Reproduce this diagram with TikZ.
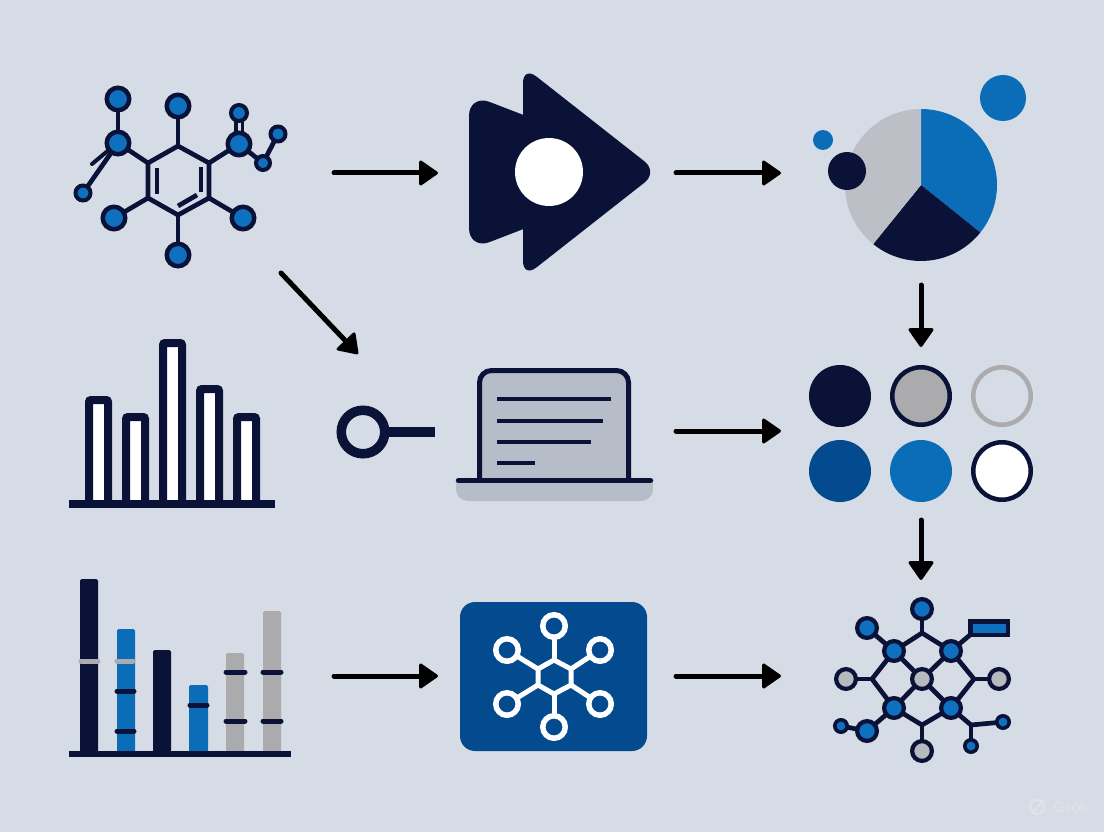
\documentclass[tikz,border=0pt]{standalone}
\usepackage{fontspec}
\setmainfont{Liberation Sans}
\usetikzlibrary{arrows.meta,backgrounds}
\definecolor{bgc}{HTML}{D6DCE5}
\definecolor{navy}{HTML}{0A1238}
\definecolor{blu}{HTML}{0B6CB8}
\definecolor{ablu}{HTML}{0F70C0}
\definecolor{dblu}{HTML}{034A8E}
\definecolor{gry}{HTML}{ABABAD}
\definecolor{pale}{HTML}{B7BDC8}
\definecolor{cgry}{HTML}{BCC0C6}
\definecolor{wm}{HTML}{DFE3EA}
\tikzset{
  flow/.style={draw=black,line width=5pt,line cap=round,-{Triangle[length=20pt,width=27pt,round,line width=3pt]}},
  bond/.style={draw=navy,line width=4.7pt,line cap=round,line join=round},
  atom/.style={circle,draw=navy,line width=4.5pt,fill=ablu,inner sep=0pt,outer sep=0pt,minimum size=22.5pt},
  matom/.style={atom,line width=4.2pt,minimum size=19.8pt},
  satom/.style={atom,line width=4pt,minimum size=15pt},
  tatom/.style={atom,line width=3.6pt,minimum size=12.4pt},
  gatom/.style={matom,fill=cgry!90!gray},
  disc/.style={circle,inner sep=0pt,minimum size=#1,fill=blu},
  bigdot/.style={circle,inner sep=0pt,minimum size=57.5pt,line width=4.5pt},
  wring/.style={circle,draw=white,line width=5.5pt,fill=dblu,inner sep=0pt,outer sep=0pt,minimum size=22.5pt},
  wbond/.style={draw=white,line width=5pt},
  barbox/.style={draw=navy,line width=8pt,fill=white,rounded corners=2pt},
  tick/.style={line width=5pt,line cap=round},
  txtline/.style={draw=navy,line width=4.5pt},
}
\begin{document}
\begin{tikzpicture}[x=1pt,y=-1pt]
\useasboundingbox (0,0) rectangle (1104,832);
\begin{scope}[on background layer]
\fill[bgc] (0,0) rectangle (1104,832);
\fill[dblu,rounded corners=15pt] (460,602) rectangle (647,751);
\end{scope}

% ---------- molecule
\coordinate (h1) at (178,146);
\coordinate (h2) at (209,163);
\coordinate (h3) at (209,198);
\coordinate (h4) at (178,215);
\coordinate (h5) at (148,198);
\coordinate (h6) at (148,163);
\node[atom] (m1) at (118,99) {};
\node[atom] (m2) at (118,143) {};
\node[satom] (m3) at (83,193) {};
\node[atom] (m4) at (178,106) {};
\node[atom] (m5) at (239,144) {};
\node[satom,minimum size=16pt] (m6) at (239,113) {};
\node[satom] (m7) at (278,134) {};
\node[satom,minimum size=14pt] (m8) at (263,163) {};
\node[atom] (m9) at (114,218) {};
\node[atom] (m10) at (243,218) {};
\node[atom] (m11) at (178,255) {};
\begin{scope}[on background layer]
\draw[bond] (h1)--(h2)--(h3)--(h4)--(h5)--(h6)--cycle;
\draw[bond] (m1)--(m2);
\draw[bond] (m2)--(m3);
\draw[bond] (m2)--(h6);
\draw[bond] (m4)--(h1);
\draw[bond] (m5)--(h2);
\draw[bond] (m5)--(m8);
\draw[bond] (m8)--(m7);
\draw[bond] (m9)--(h5);
\draw[bond] (m10)--(h3);
\draw[bond] (m11)--(h4);
\draw[bond,line width=3.5pt] (236,120)--(236,135);
\draw[bond,line width=3.5pt] (242.5,120)--(242.5,135);
\coordinate (d1) at (92,164); \coordinate (d2) at (110,149);
\draw[bond,line width=4pt] (d1)--(d2);
\draw[bond,line cap=butt] (157,168)--(157,194);
\draw[bond,line cap=butt] (201,167)--(201,192);
\draw[bond,line cap=butt] (178,206)--(197,195);
\end{scope}

% ---------- play icon
\fill[navy,rounded corners=22pt] (469,94)--(565,131)--(565,213)--(469,250)--cycle;
\fill[navy,rounded corners=17pt] (523,66)--(658,172)--(523,278)--cycle;
\node[circle,fill=white,inner sep=0pt,minimum size=68pt] (playhole) at (549,172) {};

% ---------- pie
\coordinate (pc) at (921,185);
\fill[blu] (pc) -- ++(90:76pt) arc[start angle=90,end angle=-38.7,radius=76pt] -- cycle;
\fill[navy] (pc) -- ++(-38.7:76pt) arc[start angle=-38.7,end angle=-129,radius=76pt] -- cycle;
\fill[cgry] (pc) -- ++(-129:76pt) arc[start angle=231,end angle=90,radius=76pt] -- cycle;
\node[disc=46pt] (p1) at (1003,98) {};
\node[disc=20pt] (p2) at (823,140) {};
\node[disc=38pt,fill=navy] (p3) at (847,171) {};

% ---------- white bars
\draw[barbox] (89,504)--(89,400)--(108,400)--(108,504);
\draw[barbox] (126,504)--(126,417)--(145,417)--(145,504);
\draw[barbox] (163,504)--(163,343)--(182,343)--(182,504);
\draw[barbox] (200,504)--(200,389)--(219,389)--(219,504);
\draw[barbox] (237,504)--(237,417)--(256,417)--(256,504);
\fill[navy] (69,500) rectangle (275,508);

% ---------- key icon
\node[circle,draw=navy,line width=9.5pt,inner sep=0pt,outer sep=0pt,minimum size=43.5pt,fill=bgc] (key) at (363,432) {};
\coordinate (keyend) at (435,432);
\draw[navy,line width=9.5pt] (key)--(keyend);

% ---------- laptop
\fill[pale,rounded corners=12pt] (456,470) -- (456,501) -- (653,501) -- (653,470) -- cycle;
\fill[bgc] (450,465) rectangle (660,480);
\draw[navy,line width=5pt,fill=pale,rounded corners=12pt] (479.5,480)--(479.5,370.5)--(628.5,370.5)--(628.5,480);
\draw[navy,line width=5.5pt,line cap=round] (458.5,480.5)--(650.5,480.5);
\draw[txtline] (497,399)--(611,399);
\draw[txtline] (497,421)--(603,421);
\draw[txtline] (497,442)--(591,442);
\draw[txtline] (497,463)--(535,463);

% ---------- circle grid
\node[bigdot,minimum size=62pt,fill=navy] (c1) at (840,396) {};
\node[bigdot,draw=navy,fill=gry] (c2) at (921,396) {};
\node[bigdot,draw=gry] (c3) at (1002,396) {};
\node[bigdot,minimum size=62pt,fill=dblu] (c4) at (840,471) {};
\node[bigdot,minimum size=62pt,fill=blu] (c5) at (921,471) {};
\node[bigdot,draw=navy,fill=white] (c6) at (1002,471) {};

% ---------- lower bars
\fill[navy,rounded corners=1.5pt] (80,752) -- (80,579) -- (98,579) -- (98,752) -- cycle;
\fill[blu,rounded corners=1.5pt] (117,752) -- (117,629) -- (135,629) -- (135,752) -- cycle;
\fill[navy,rounded corners=1.5pt] (153,752) -- (153,650) -- (171,650) -- (171,752) -- cycle;
\fill[blu,rounded corners=1.5pt] (189,752) -- (189,685) -- (208,685) -- (208,752) -- cycle;
\fill[gry,rounded corners=1.5pt] (226,752) -- (226,653) -- (244,653) -- (244,752) -- cycle;
\fill[gry,rounded corners=1.5pt] (263,752) -- (263,611) -- (281,611) -- (281,752) -- cycle;
\draw[tick,gry] (81,661)--(98,661);
\draw[tick,gry] (117,661)--(133,661);
\draw[tick,navy] (117,691)--(134,691);
\draw[tick,navy] (117,731)--(134,731);
\draw[tick,navy] (190,705)--(207,705);
\draw[tick,navy] (226,672)--(245,672);
\draw[tick,navy] (226,721)--(245,721);
\draw[tick,navy] (263,672)--(281,672);
\draw[tick,navy] (263,721)--(281,721);
\fill[navy] (69,751) rectangle (291,757);

% ---------- blue box with hexagon
\coordinate (x1) at (554,660);
\coordinate (x2) at (571,669);
\coordinate (x3) at (571,685);
\coordinate (x4) at (554,694);
\coordinate (x5) at (538,685);
\coordinate (x6) at (538,669);
\node[wring] (r1) at (554,626) {};
\node[wring] (r2) at (600,650) {};
\node[wring] (r3) at (600,704) {};
\node[wring] (r4) at (554,727) {};
\node[wring] (r5) at (507,704) {};
\node[wring] (r6) at (507,650) {};
\begin{scope}[on background layer]
\draw[wbond,line join=round] (x1)--(x2)--(x3)--(x4)--(x5)--(x6)--cycle;
\draw[wbond] (r1)--(x1);
\draw[wbond] (r2)--(x2);
\draw[wbond] (r3)--(x3);
\draw[wbond] (r4)--(x4);
\draw[wbond] (r5)--(x5);
\draw[wbond] (r6)--(x6);
\end{scope}

% ---------- network
\node[matom] (n1) at (922,609) {};
\node[matom] (n2) at (867,628) {};
\node[draw=navy,line width=4.5pt,fill=ablu,inner sep=0pt,outer sep=0pt,minimum width=37.5pt,minimum height=13.5pt] (n3) at (989,628) {};
\node[matom] (n4) at (894,651) {};
\node[matom] (n5) at (951,651) {};
\node[gatom] (n6) at (846,679) {};
\node[gatom] (n7) at (922,679) {};
\node[gatom] (n8) at (999,679) {};
\node[matom] (n9) at (894,708) {};
\node[matom] (n10) at (951,708) {};
\node[gatom] (n11) at (922,751) {};
\node[matom] (n12) at (867,731) {};
\node[tatom] (n13) at (841,726) {};
\node[tatom] (n14) at (1003,722) {};
\node[tatom] (n15) at (971,746) {};
\coordinate (j1) at (922,633);
\coordinate (j2) at (872,679);
\coordinate (j3) at (974,679);
\coordinate (j4) at (922,725);
\coordinate (j5) at (971,725);
\begin{scope}[on background layer]
\draw[bond] (n1)--(j1);
\draw[bond] (n4)--(j1);
\draw[bond] (n5)--(j1);
\draw[bond] (n2)--(n4);
\draw[bond] (n5)--(n3.south west);
\draw[bond] (n4)--(n7);
\draw[bond] (n5)--(n7);
\draw[bond] (n4)--(j2);
\draw[bond] (n6)--(j2);
\draw[bond] (n9)--(j2);
\draw[bond] (n5)--(j3);
\draw[bond] (n8)--(j3);
\draw[bond] (n10)--(j3);
\draw[bond] (n7)--(n9);
\draw[bond] (n7)--(n10);
\draw[bond] (n9)--(j4);
\draw[bond] (n10)--(j4);
\draw[bond] (n11)--(j4);
\draw[bond] (n9)--(n12);
\draw[bond] (n12)--(n13);
\draw[bond] (n10)--(j5);
\draw[bond] (n14)--(j5);
\draw[bond] (n15)--(j5);
\end{scope}

% ---------- flow arrows
\coordinate (a1s) at (334,173); \coordinate (a1e) at (438,173);
\coordinate (a2s) at (676,173); \coordinate (a2e) at (781,173);
\coordinate (a3s) at (281,273); \coordinate (a3e) at (358,354);
\coordinate (a4s) at (921,285); \coordinate (a4e) at (921,347);
\coordinate (a5s) at (676,431); \coordinate (a5e) at (781,431);
\coordinate (a6s) at (921,520); \coordinate (a6e) at (921,580);
\coordinate (a7s) at (334,676); \coordinate (a7e) at (438,676);
\coordinate (a8s) at (676,676); \coordinate (a8e) at (781,676);
\draw[flow] (a1s)--(a1e);
\draw[flow] (a2s)--(a2e);
\draw[flow] (a3s)--(a3e);
\draw[flow] (a4s)--(a4e);
\draw[flow] (a5s)--(a5e);
\draw[flow] (a6s)--(a6e);
\draw[flow] (a7s)--(a7e);
\draw[flow] (a8s)--(a8e);

% ---------- watermark
\node[circle,draw=wm,line width=2pt,inner sep=0pt,minimum size=14pt] (wmicon) at (1037,807) {};
\draw[wm,line width=1.6pt] (1032,813)--(1045,799);
\node[text=wm,font=\fontsize{16}{16}\selectfont,inner sep=0pt] (wmtext) at (1071,807) {Grok};
\end{tikzpicture}
\end{document}
